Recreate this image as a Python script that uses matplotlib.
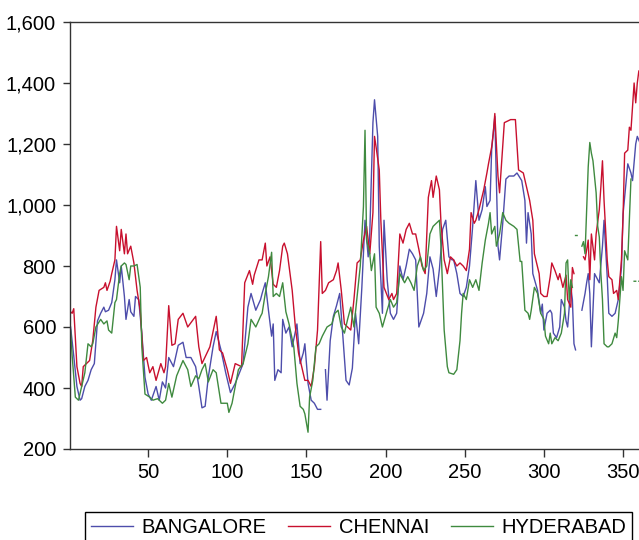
import matplotlib
matplotlib.use("Agg")
import matplotlib.pyplot as plt
from matplotlib import rc
from matplotlib.ticker import FuncFormatter, FixedLocator
import numpy as np

rc('font', **{'family': 'sans-serif', 'sans-serif': ['Liberation Sans', 'DejaVu Sans']})

fs = 14.5
nan = np.nan

# values, (day, value) pairs per city
bangalore_day = [1, 3, 5, 7, 8, 10, 12, 14, 16, 18, 20, 22, 23, 25, 27, 29, 30, 32, 33, 35,
                 36, 38, 39, 41, 42, 44, 46, 48, 50, 52, 55, 57, 59, 61, 63, 66, 69, 72, 74, 77,
                 80, 82, 84, 86, 88, 91, 93, 96, 99, 102, 105, 110, 113, 115, 118, 121, 122, 124, 126, 128,
                 129, 130, 132, 134, 135, 137, 139, 141, 144, 146, 148, 149, 151, 153, 155, 157, 159, 160, 162, 163,
                 165, 167, 169, 171, 173, 175, 177, 179, 181, 183, 185, 187, 189, 190, 192, 193, 195, 196, 198, 199,
                 201, 203, 205, 207, 209, 211, 213, 215, 217, 219, 221, 224, 226, 228, 230, 232, 234, 236, 238, 240,
                 242, 243, 245, 247, 249, 251, 253, 255, 257, 259, 261, 263, 264, 266, 267, 269, 270, 271, 272, 274,
                 276, 278, 281, 283, 286, 288, 289, 290, 292, 293, 296, 298, 299, 300, 302, 304, 305, 306, 308, 310,
                 311, 313, 314, 315, 317, 318, 319, 320, 322, 324, 326, 327, 328, 329, 330, 332, 333, 335, 337, 338,
                 340, 341, 343, 345, 347, 349, 350, 352, 353, 355, 356, 358, 359, 361]
bangalore = [600, 505, 405, 360, 365, 405, 425, 460, 480, 620, 645, 665, 650, 655, 680, 755, 820, 745, 800, 700,
             625, 690, 650, 635, 700, 690, 580, 435, 380, 360, 405, 360, 420, 400, 500, 470, 540, 550, 500, 500,
             470, 405, 335, 340, 435, 535, 585, 525, 450, 385, 415, 480, 665, 710, 655, 690, 710, 745, 655, 570,
             610, 425, 460, 450, 625, 580, 600, 535, 610, 480, 515, 545, 415, 360, 350, 330, 330, nan, 460, 360,
             555, 635, 670, 710, 570, 425, 410, 465, 645, 545, 730, 950, 830, 905, 1270, 1345, 1225, 865, 645, 950,
             755, 645, 625, 645, 800, 755, 800, 855, 840, 820, 600, 645, 710, 830, 790, 700, 790, 920, 950, 830,
             820, 820, 775, 710, 700, 730, 800, 930, 1080, 950, 985, 1060, 995, 1015, 1180, 1290, 1080, 865, 820, 940,
             1085, 1095, 1095, 1105, 1080, 1015, 875, 975, 905, 775, 720, 645, 675, 590, 645, 655, 645, 580, 565, 600,
             690, 665, 620, 600, 730, 690, 545, 525, nan, 655, 710, 745, 775, 710, 535, 775, 765, 745, 865, 950,
             765, 645, 635, 645, 690, 795, 970, 1080, 1135, 1105, 1080, 1200, 1225, 1200]

chennai_day = [1, 2, 3, 5, 7, 8, 9, 11, 13, 15, 17, 19, 22, 23, 24, 26, 27, 29, 30, 32,
               33, 35, 36, 37, 39, 41, 43, 45, 47, 49, 51, 53, 55, 58, 60, 61, 63, 65, 67, 69,
               72, 75, 80, 82, 84, 89, 93, 95, 97, 100, 102, 105, 109, 111, 114, 116, 117, 120, 122, 124,
               125, 127, 129, 131, 133, 135, 136, 138, 141, 143, 145, 147, 149, 151, 153, 155, 157, 159, 160, 162,
               164, 167, 169, 170, 172, 174, 176, 178, 180, 182, 184, 186, 188, 190, 192, 193, 194, 196, 197, 199,
               202, 204, 205, 207, 209, 211, 213, 215, 217, 219, 221, 223, 225, 227, 229, 230, 232, 234, 235, 237,
               239, 241, 243, 245, 247, 249, 251, 253, 254, 256, 257, 259, 262, 264, 265, 267, 268, 269, 271, 272,
               274, 275, 277, 279, 282, 284, 287, 289, 291, 293, 294, 297, 298, 300, 302, 304, 305, 307, 309, 310,
               312, 314, 315, 317, 318, 319, 321, 325, 326, 328, 329, 330, 332, 333, 335, 336, 337, 338, 340, 341,
               343, 344, 346, 347, 349, 350, 351, 353, 354, 355, 357, 358, 359, 360, 362]
chennai = [650, 645, 660, 470, 415, 405, 470, 480, 490, 555, 665, 720, 730, 745, 720, 750, 775, 820, 930, 850,
           920, 840, 905, 840, 865, 810, 720, 655, 490, 500, 450, 470, 425, 480, 450, 470, 670, 540, 545, 625,
           645, 600, 635, 535, 480, 535, 635, 525, 515, 460, 415, 480, 470, 745, 785, 740, 770, 820, 820, 875,
           800, 830, 740, 730, 785, 865, 875, 840, 720, 600, 515, 470, 425, 425, 405, 470, 590, 880, 710, 720,
           745, 755, 785, 810, 720, 610, 600, 590, 690, 810, 820, 885, 930, 840, 975, 1225, 1190, 1115, 950, 730,
           690, 710, 690, 710, 905, 875, 920, 940, 905, 905, 855, 800, 775, 1025, 1080, 1025, 1095, 1050, 940, 820,
           775, 830, 820, 800, 810, 800, 785, 855, 975, 940, 950, 985, 1050, 1105, 1135, 1190, 1235, 1300, 1095, 1040,
           1190, 1270, 1275, 1280, 1280, 1115, 1105, 1060, 1015, 950, 840, 775, 710, 700, 700, 765, 810, 785, 755, 775,
           730, 770, 690, 665, 795, 775, nan, 830, 820, 885, 755, 905, 820, 905, 985, 1060, 1145, 1015, 820, 765,
           755, 710, 720, 690, 820, 960, 1170, 1180, 1255, 1245, 1400, 1335, 1400, 1440, 1380]

hyderabad_day = [1, 2, 4, 6, 8, 10, 12, 14, 15, 17, 20, 22, 24, 25, 27, 29, 30, 32, 33, 35,
                 36, 38, 39, 41, 43, 45, 46, 48, 51, 53, 56, 59, 61, 63, 65, 68, 72, 75, 77, 80,
                 82, 84, 86, 88, 91, 93, 96, 100, 101, 103, 107, 110, 113, 115, 118, 121, 122, 124, 126, 128,
                 129, 131, 133, 135, 137, 139, 142, 144, 146, 148, 149, 151, 152, 154, 156, 158, 160, 163, 166, 168,
                 170, 172, 174, 176, 178, 180, 182, 184, 186, 187, 188, 190, 191, 193, 194, 196, 198, 201, 203, 205,
                 207, 209, 212, 214, 216, 218, 220, 222, 224, 226, 228, 230, 232, 234, 235, 237, 239, 240, 243, 245,
                 247, 248, 249, 251, 253, 255, 257, 259, 261, 263, 265, 266, 267, 269, 270, 272, 274, 276, 278, 281,
                 283, 285, 286, 288, 290, 291, 292, 294, 296, 298, 300, 301, 303, 304, 305, 307, 309, 311, 313, 314,
                 315, 316, 317, 318, 319, 320, 321, 322, 324, 325, 326, 328, 329, 330, 331, 333, 334, 335, 336, 337,
                 338, 340, 341, 343, 345, 346, 347, 349, 350, 351, 353, 354, 355, 356, 357, 358, 359, 360, 361]
hyderabad = [590, 505, 370, 360, 405, 450, 545, 535, 545, 600, 625, 610, 620, 590, 580, 680, 690, 775, 800, 810,
             805, 755, 800, 800, 805, 730, 535, 380, 370, 360, 365, 350, 360, 415, 370, 440, 490, 460, 405, 440,
             430, 460, 480, 420, 460, 450, 350, 350, 320, 350, 460, 480, 545, 625, 600, 635, 645, 710, 765, 845,
             700, 710, 700, 745, 650, 610, 535, 415, 340, 330, 315, 255, 370, 425, 535, 545, 570, 600, 610, 645,
             655, 600, 580, 625, 665, 600, 700, 800, 995, 1245, 885, 840, 785, 840, 665, 645, 600, 655, 690, 665,
             680, 775, 745, 765, 745, 720, 800, 830, 785, 800, 905, 930, 940, 950, 865, 590, 470, 450, 445, 460,
             555, 645, 710, 690, 755, 730, 755, 720, 810, 885, 940, 975, 905, 930, 865, 905, 975, 950, 940, 930,
             920, 815, 815, 655, 645, 625, 655, 730, 710, 645, 625, 570, 545, 580, 545, 565, 555, 580, 645, 810,
             820, 690, 755, 730, nan, 900, 900, nan, 865, 880, 840, 1125, 1205, 1170, 1145, 1040, 930, 895, 775, 690,
             545, 535, 535, 545, 580, 565, 620, 765, 720, 850, 820, 950, 1085, nan, 750, 750, nan, 750, 750]

series = [
    ("BANGALORE", bangalore_day, bangalore, "#4d4dab"),
    ("CHENNAI", chennai_day, chennai, "#c8102e"),
    ("HYDERABAD", hyderabad_day, hyderabad, "#3f8a3f"),
]

fig = plt.figure(figsize=(6.39, 5.40), dpi=100)
# the reference is cropped on the right, so the axes run past the figure edge
ax = fig.add_axes([70 / 639, 91 / 540, 584.7 / 639, 427 / 540])

for name, day, vals, col in series:
    ax.plot(day, vals, color=col, lw=1.0, label=name)

ax.set_xlim(0.63, 370)
ax.set_ylim(200, 1600)
ax.xaxis.set_major_locator(FixedLocator([50, 100, 150, 200, 250, 300, 350]))
ax.yaxis.set_major_locator(FixedLocator(range(200, 1601, 200)))
ax.yaxis.set_major_formatter(FuncFormatter(lambda v, p: f"{int(v):,}"))
ax.tick_params(axis='both', direction='out', labelsize=fs, color='#333333', width=1.0)
ax.tick_params(axis='y', length=5, pad=5)
ax.tick_params(axis='x', length=6, pad=4)
for s in ax.spines.values():
    s.set_color('#333333')
    s.set_linewidth(1.0)
ax.spines['right'].set_visible(False)

leg = fig.legend(loc='upper center', bbox_to_anchor=(0.561, 1 - 512 / 540), ncol=3,
                 fontsize=fs, frameon=True, fancybox=False, edgecolor='black',
                 handlelength=2.1, handletextpad=0.4, columnspacing=1.1, borderpad=0.3,
                 borderaxespad=0)
leg.get_frame().set_linewidth(1.0)
leg.get_frame().set_alpha(1)

fig.savefig("out.png", dpi=100)
plt.close(fig)
